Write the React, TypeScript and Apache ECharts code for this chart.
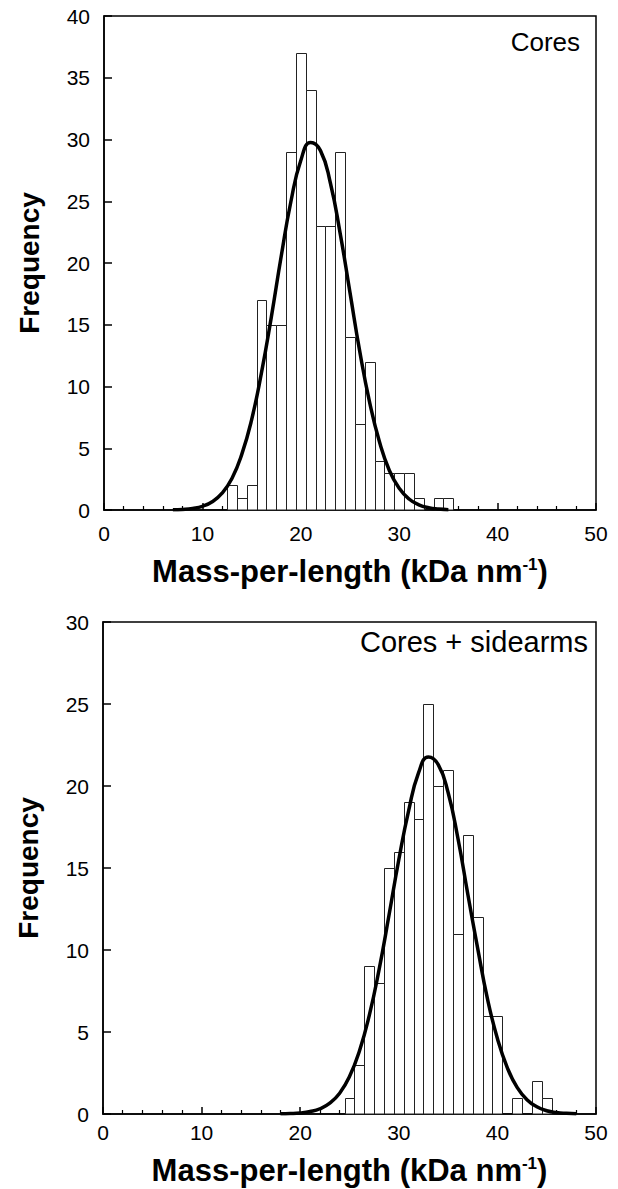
import React, { useEffect, useRef } from "react";
import * as echarts from "echarts";

// ---- Top panel: Cores ----
const coresBins = [13, 14, 15, 16, 17, 18, 19, 20, 21, 22, 23, 24, 25, 26, 27, 28, 29, 30, 31, 32, 33, 34, 35];
const coresCounts = [2, 1, 2, 17, 15, 15, 29, 37, 34, 23, 23, 29, 14, 7, 12, 4, 3, 3, 3, 1, 0, 1, 1];
const coresFitX = [7, 8, 9, 10, 11, 12, 13, 14, 15, 16, 17, 18, 19, 20, 21, 22, 23, 24, 25, 26, 27, 28, 29, 30, 31, 32, 33, 34, 35];
const coresFitY = [0.02, 0.05, 0.13, 0.3, 0.67, 1.36, 2.55, 4.5, 7.3, 11.1, 15.6, 20.5, 25.0, 28.3, 29.76, 29.1, 26.5, 22.4, 17.6, 12.8, 8.7, 5.5, 3.2, 1.76, 0.89, 0.42, 0.18, 0.075, 0.03];

// ---- Bottom panel: Cores + sidearms ----
const sideBins = [25, 26, 27, 28, 29, 30, 31, 32, 33, 34, 35, 36, 37, 38, 39, 40, 41, 42, 43, 44, 45];
const sideCounts = [1, 3, 9, 8, 15, 16, 19, 18, 25, 20, 21, 11, 17, 12, 6, 6, 0, 1, 0, 2, 1];
const sideFitX = [18, 19, 20, 21, 22, 23, 24, 25, 26, 27, 28, 29, 30, 31, 32, 33, 34, 35, 36, 37, 38, 39, 40, 41, 42, 43, 44, 45, 46, 47, 48];
const sideFitY = [0.01, 0.025, 0.063, 0.15, 0.32, 0.66, 1.27, 2.28, 3.83, 6.0, 8.8, 12.1, 15.5, 18.5, 20.8, 21.77, 21.3, 19.6, 16.8, 13.4, 10.1, 7.0, 4.6, 2.83, 1.62, 0.87, 0.44, 0.2, 0.09, 0.04, 0.014];

const xTicks = [0, 10, 20, 30, 40, 50];
const coresYMax = 40;
const sideYMax = 30;

const FONT = '"Liberation Sans", Arial, Helvetica, sans-serif';

function histRender(params: any, api: any) {
  const x = api.value(0);
  const y = api.value(1);
  if (!y) return null;
  const p0 = api.coord([x - 0.5, y]);
  const p1 = api.coord([x + 0.5, 0]);
  const x0 = Math.round(p0[0]) + 0.5;
  const x1 = Math.round(p1[0]) + 0.5;
  const y0 = Math.round(p0[1]) + 0.5;
  const y1 = p1[1];
  return {
    type: "rect",
    shape: { x: x0, y: y0, width: x1 - x0, height: y1 - y0 },
    style: { fill: "#fff", stroke: "#222", lineWidth: 1 },
  };
}

function xAxisCfg(gridIndex: number, labelMargin: number, nameGap: number) {
  return {
    type: "value",
    gridIndex,
    min: xTicks[0],
    max: xTicks[xTicks.length - 1],
    interval: 10,
    axisLine: { show: true, onZero: false, lineStyle: { color: "#000", width: 1.5 } },
    axisTick: { show: true, inside: true, length: 7, lineStyle: { color: "#000", width: 1.5 } },
    minorTick: { show: true, splitNumber: 5, length: 4, lineStyle: { color: "#000", width: 1.2 } },
    splitLine: { show: false },
    axisLabel: { color: "#000", fontSize: 21, fontFamily: FONT, margin: labelMargin },
    name: "Mass-per-length (kDa nm{sup|-1})",
    nameLocation: "middle",
    nameGap,
    nameTextStyle: {
      color: "#000",
      fontSize: 31,
      fontWeight: "bold",
      fontFamily: FONT,
      rich: {
        sup: { fontSize: 17, fontWeight: "bold", fontFamily: FONT, color: "#000", verticalAlign: "top", lineHeight: 17, padding: [0, 0, 13, 0] },
      },
    },
  };
}

function yAxisCfg(gridIndex: number, max: number) {
  return {
    type: "value",
    gridIndex,
    min: 0,
    max,
    interval: 5,
    axisLine: { show: true, lineStyle: { color: "#000", width: 1.5 } },
    axisTick: { show: true, inside: true, length: 8, lineStyle: { color: "#000", width: 1.5 } },
    splitLine: { show: false },
    axisLabel: { color: "#000", fontSize: 21, fontFamily: FONT, margin: 14 },
    name: "Frequency",
    nameLocation: "middle",
    nameGap: 61,
    nameTextStyle: { color: "#000", fontSize: 28, fontWeight: "bold", fontFamily: FONT },
  };
}

export default function App() {
  const ref = useRef<HTMLDivElement>(null);
  useEffect(() => {
    document.body.style.margin = "0";
    const chart = echarts.init(ref.current!, undefined, { renderer: "svg" });
    chart.setOption({
      animation: false,
      backgroundColor: "#fff",
      grid: [
        { left: 104, top: 16, width: 492, height: 494, show: true, borderColor: "#000", borderWidth: 1.5, backgroundColor: "transparent" },
        { left: 103, top: 622, width: 493, height: 492, show: true, borderColor: "#000", borderWidth: 1.5, backgroundColor: "transparent" },
      ],
      xAxis: [xAxisCfg(0, 13, 46), xAxisCfg(1, 8, 41)],
      yAxis: [yAxisCfg(0, coresYMax), yAxisCfg(1, sideYMax)],
      graphic: [
        {
          type: "text",
          right: 38,
          top: 29,
          style: { text: "Cores", fontSize: 26, fontFamily: FONT, fill: "#000" },
        },
        {
          type: "text",
          right: 30,
          top: 627,
          style: { text: "Cores + sidearms", fontSize: 29, fontFamily: FONT, fill: "#000" },
        },
      ],
      series: [
        {
          type: "custom",
          xAxisIndex: 0,
          yAxisIndex: 0,
          renderItem: histRender,
          data: coresBins.map((b, i) => [b, coresCounts[i]]),
          z: 2,
        },
        {
          type: "line",
          xAxisIndex: 0,
          yAxisIndex: 0,
          smooth: true,
          showSymbol: false,
          lineStyle: { color: "#000", width: 3.5 },
          data: coresFitX.map((x, i) => [x, coresFitY[i]]),
          z: 3,
        },
        {
          type: "custom",
          xAxisIndex: 1,
          yAxisIndex: 1,
          renderItem: histRender,
          data: sideBins.map((b, i) => [b, sideCounts[i]]),
          z: 2,
        },
        {
          type: "line",
          xAxisIndex: 1,
          yAxisIndex: 1,
          smooth: true,
          showSymbol: false,
          lineStyle: { color: "#000", width: 3.5 },
          data: sideFitX.map((x, i) => [x, sideFitY[i]]),
          z: 3,
        },
      ],
    });
    return () => chart.dispose();
  }, []);
  return <div ref={ref} style={{ width: 618, height: 1189 }} />;
}
